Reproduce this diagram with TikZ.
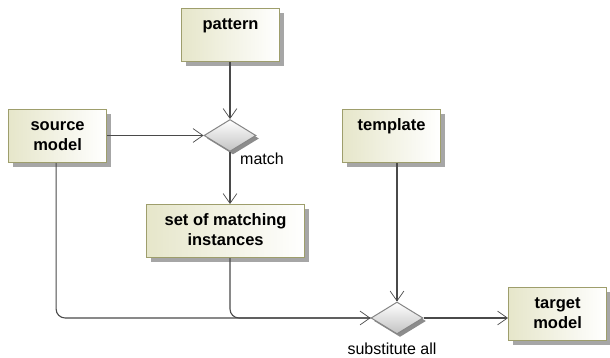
\documentclass[tikz,border=0pt]{standalone}
\usepackage{fontspec}
\setmainfont{Liberation Sans}
\usepackage{xcolor}
\usepackage{tikz}
\usetikzlibrary{shapes.geometric, arrows.meta, positioning, shadows}
\definecolor{box-border}{HTML}{9E9E6C}
\definecolor{box-fill}{HTML}{E6E6CA}
\definecolor{gate-border}{HTML}{858585}
\definecolor{gate-fill}{HTML}{C2C2C2}
\definecolor{flow-gray}{HTML}{4A4A4A}

\begin{document}
\begin{tikzpicture}[
    x=1pt, y=-1pt,
    box/.style={rectangle, draw=box-border, line width=1.2pt, left color=box-fill, right color=white, minimum width=98pt, align=center, text height=35pt, text depth=6pt, inner ysep=6pt, font=\fontsize{16.5}{20}\selectfont\bfseries, drop shadow={shadow xshift=4pt, shadow yshift=-4pt, fill=black!35, opacity=1}},
    oneline/.style={text height=15pt, text depth=26pt},
    gate/.style={diamond, draw=gate-border, line width=1pt, top color=white, bottom color=gate-fill, minimum width=52pt, minimum height=32pt, inner sep=0pt, drop shadow={shadow xshift=3pt, shadow yshift=-3pt, fill=black!45, opacity=1}},
    gatetext/.style={inner sep=0pt, font=\fontsize{16}{20}\selectfont},
    arrow/.style={-{Straight Barb[angle=70:12pt, line width=0.7pt]}, line width=1.1pt, flow-gray},
    flow/.style={line width=1.1pt, flow-gray, rounded corners=9pt}
]
    \useasboundingbox (0,0) rectangle (610,358);

    \node[box, oneline, anchor=north west] (pattern) at (181,8) {pattern};
    \node[box, anchor=north west] (source) at (8,109) {source\\model};
    \node[box, oneline, anchor=north west] (template) at (342,109) {template};
    \node[box, anchor=north west, minimum width=158pt] (set) at (146,204) {set of matching\\instances};
    \node[box, anchor=north west] (target) at (508,287) {target\\model};

    \node[gate] (match) at (230,135.5) {};
    \node[gate] (subst) at (397,318) {};
    \node[gatetext, anchor=base west] (matchtext) at (240,165) {match};
    \node[gatetext, anchor=base] (substtext) at (392,354) {substitute all};

    \draw[arrow] (pattern.south -| match.north) -- (match.north);
    \draw[arrow] (source.east |- match.west) -- (match.west);
    \draw[arrow] (match.south) -- (match.south |- set.north);
    \draw[arrow] (subst.north |- template.south) -- (subst.north);
    \draw[flow] (set.south -| match.south) |- (subst.west);
    \draw[arrow, rounded corners=9pt] ([xshift=-1.5pt]source.south) |- (subst.west);
    \draw[arrow] (subst.east) -- (subst.east -| target.west);
\end{tikzpicture}
\end{document}
